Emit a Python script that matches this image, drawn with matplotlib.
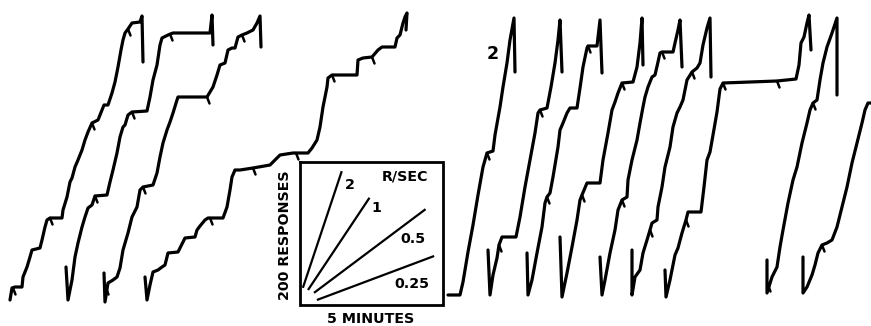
import matplotlib
matplotlib.use("Agg")
import matplotlib.pyplot as plt

# Cumulative records (horizontal = time, vertical = responses;
# units are record-paper units, the vertical grows downward on the paper image)
rec1 = [(10,300),(12,288),(15,287),(22,287),(23,277),(25,272),(27,267),(30,257),(32,250),(40,248),
        (42,240),(45,227),(47,220),(50,218),(62,218),(63,210),(67,197),(70,182),(72,178),(75,167),
        (78,160),(82,150),(85,140),(88,132),(92,123),(98,120),(102,110),(104,105),(108,105),(112,93),
        (115,82),(118,67),(121,50),(123,40),(125,33),(128,29),(132,23),(140,22),(142,16),(143,62)]
rec2 = [(66,267),(68,300),(72,280),(75,257),(78,243),(82,227),(85,217),(88,208),(92,205),(95,196),
        (107,195),(110,182),(113,170),(117,153),(120,137),(123,127),(125,125),(128,115),(132,112),
        (147,111),(150,97),(153,80),(157,65),(160,45),(162,38),(168,35),(173,33),(210,33),(212,15),(213,45)]
rec3 = [(104,273),(105,302),(108,283),(113,280),(117,277),(120,268),(123,250),(128,233),(132,217),
        (137,207),(140,190),(143,187),(153,185),(157,173),(160,157),(163,143),(167,130),(170,122),
        (173,113),(177,100),(178,97),(207,97),(213,87),(217,75),(220,65),(225,63),(228,50),(232,48),
        (235,48),(238,37),(242,35),(247,33),(253,30),(257,23),(260,16),(261,47)]
rec4 = [(145,277),(147,300),(150,285),(153,272),(158,270),(162,267),(165,265),(168,253),(178,252),
        (183,242),(185,238),(195,237),(197,230),(200,226),(205,220),(208,218),(223,218),(227,207),
        (230,190),(232,177),(235,170),(240,170),(253,168),(270,165),(275,160),(280,155),(293,153),
        (308,153),(312,148),(317,140),(320,127),(323,107),(327,87),(328,78),(332,75),(357,75),(358,60),
        (363,58),(372,57),(378,50),(382,47),(395,47),(397,38),(400,35),(403,23),(405,17),(407,13),(406,30)]
rec5 = [(448,295),(460,295),(463,282),(468,252),(473,225),(478,195),(483,167),(487,153),(493,151),
        (495,135),(500,107),(503,87),(507,63),(510,40),(514,18),(515,72)]
rec6 = [(488,250),(490,295),(493,275),(497,258),(499,245),(502,237),(516,237),(520,217),(525,187),
        (530,160),(535,133),(538,113),(540,110),(547,108),(551,87),(555,63),(558,40),(560,20),(562,72)]
rec7 = [(527,253),(528,295),(532,280),(537,253),(542,227),(545,203),(547,197),(550,193),(553,177),
        (558,147),(560,130),(563,123),(567,113),(570,108),(577,108),(580,88),(583,67),(587,48),(588,46),
        (597,46),(600,20),(602,73)]
rec8 = [(560,237),(562,297),(567,273),(572,247),(577,220),(580,200),(582,195),(587,183),(600,183),
        (603,160),(608,133),(612,110),(615,102),(618,93),(622,83),(633,82),(637,67),(640,43),(642,18),(643,65)]
rec9 = [(600,257),(602,295),(605,280),(610,253),(615,230),(618,210),(622,200),(627,197),(628,180),
        (632,160),(637,140),(640,123),(643,107),(645,97),(648,87),(652,77),(655,75),(658,62),(660,53),
        (662,52),(673,52),(675,43),(678,30),(680,20),(682,67)]
rec10 = [(632,250),(632,295),(635,277),(640,270),(643,253),(647,240),(650,230),(652,223),(657,220),
         (658,207),(662,187),(665,167),(670,147),(673,127),(677,113),(680,107),(683,100),(687,80),
         (692,72),(697,68),(700,63),(703,45),(707,28),(710,18),(711,77)]
rec11 = [(665,270),(666,297),(670,280),(675,255),(678,248),(682,233),(686,220),(688,212),(701,212),
         (704,187),(707,160),(710,152),(713,135),(717,112),(720,89),(723,83),(750,82),(777,81),(796,79),
         (799,65),(801,43),(804,37),(807,23),(809,15),(811,50)]
rec12 = [(767,260),(767,293),(772,277),(777,267),(780,247),(783,230),(788,203),(793,180),(797,167),
         (802,143),(807,123),(810,110),(813,103),(817,100),(820,80),(823,63),(827,47),(832,33),(837,18),(837,95)]
rec13 = [(803,257),(803,293),(807,287),(812,275),(815,265),(818,253),(822,245),(827,243),(832,240),
         (837,227),(842,207),(847,187),(852,163),(857,143),(862,123),(865,110),(868,103),(872,103)]

records = [rec1, rec2, rec3, rec4, rec5, rec6, rec7, rec8, rec9, rec10, rec11, rec12, rec13]

# reinforcement pips
pips = [(13,288),(50,218),(92,123),(128,29),(95,196),(132,112),(170,34),(106,288),(143,187),
        (207,97),(242,35),(210,218),(253,168),(296,153),(332,75),(372,57),(487,153),(499,245),
        (540,110),(547,197),(588,46),(582,195),(622,83),(622,200),(662,52),(650,230),(692,72),
        (686,220),(723,83),(777,81),(768,285),(813,103),(822,245)]

# scale inset: 5 minutes x 200 responses
scale_minutes = 5
scale_responses = 200
rates = [2, 1, 0.5, 0.25]              # responses / sec
rate_labels = ["2", "1", "0.5", "0.25"]
rate_durations = [1.36, 2.15, 3.9, 4.1]  # minutes drawn
rate_start_t = [0.1, 0.28, 0.49, 0.59]   # minutes from box left
rate_start_n = [24, 21, 17, 7]           # responses above box bottom

box_left, box_bottom, box_w, box_h = 300, 305, 143, 143
px_per_min = box_w / scale_minutes
px_per_resp = box_h / scale_responses

fig = plt.figure(figsize=(8.71, 3.26), dpi=100)
ax = fig.add_axes([0, 0, 1, 1])
ax.set_xlim(0, 871)
ax.set_ylim(326, 0)
ax.axis("off")

for rec in records:
    xs, ys = zip(*rec)
    ax.plot(xs, ys, color="black", lw=2.3, solid_capstyle="round", solid_joinstyle="round")

for (px, py) in pips:
    ax.plot([px, px + 2.5], [py, py + 6.5], color="black", lw=1.8, solid_capstyle="round")

# inset box
ax.plot([box_left, box_left, box_left + box_w, box_left + box_w, box_left],
        [box_bottom - box_h, box_bottom, box_bottom, box_bottom - box_h, box_bottom - box_h],
        color="black", lw=2.0, solid_joinstyle="miter")

for r, d, t0, n0 in zip(rates, rate_durations, rate_start_t, rate_start_n):
    x0 = box_left + t0 * px_per_min
    y0 = box_bottom - n0 * px_per_resp
    x1 = x0 + d * px_per_min
    y1 = y0 - r * 60 * d * px_per_resp
    ax.plot([x0, x1], [y0, y1], color="black", lw=1.6, solid_capstyle="butt")

fs = 10.3
label_pos = [(350, 185), (376, 208), (413, 239), (412, 284)]
for lab, (lx, ly) in zip(rate_labels, label_pos):
    ax.text(lx, ly, lab, fontsize=fs, fontweight="bold", ha="center", va="center")
ax.text(405, 177, "R/SEC", fontsize=fs, fontweight="bold", ha="center", va="center")
ax.text(371, 319, "5 MINUTES", fontsize=fs, fontweight="bold", ha="center", va="center")
ax.text(285, 235, "200 RESPONSES", fontsize=fs, fontweight="bold", ha="center", va="center",
        rotation=90)
ax.text(493, 54, "2", fontsize=12.5, ha="center", va="center", fontweight="bold")

fig.savefig("out.png", dpi=100, facecolor="white")
